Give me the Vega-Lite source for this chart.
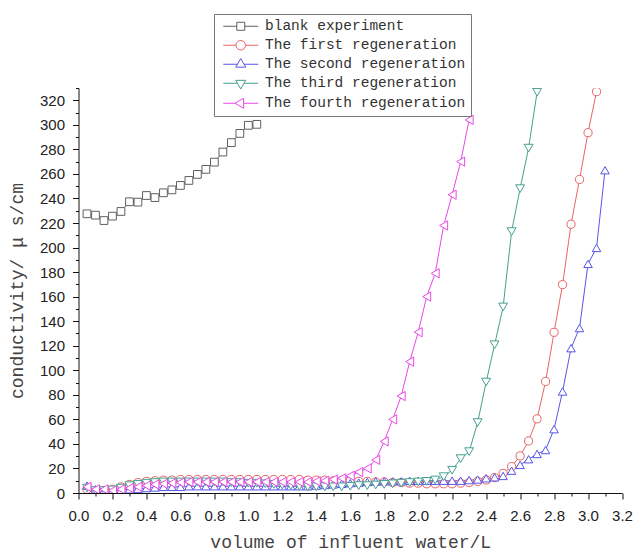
{
 "$schema": "https://vega.github.io/schema/vega-lite/v6.json",
 "width": 543.5,
 "height": 405,
 "autosize": "none",
 "padding": {"left": 78.5, "top": 88, "right": 13, "bottom": 59},
 "background": "white",
 "config": {
  "view": {"stroke": null},
  "axis": {"grid": false, "domainColor": "#111", "tickColor": "#111", "labelFont": "Liberation Sans", "labelFontSize": 15, "labelColor": "#222", "titleFont": "Liberation Mono", "titleFontSize": 18, "titleFontWeight": "normal", "titleColor": "#444", "labelOverlap": false, "labelFlush": false}
 },
 "data": {"values": [
  {"s":"blank","x":0.05,"y":227.5},{"s":"blank","x":0.1,"y":226.4},{"s":"blank","x":0.15,"y":222},{"s":"blank","x":0.2,"y":225.6},{"s":"blank","x":0.25,"y":229.4},{"s":"blank","x":0.3,"y":237.3},{"s":"blank","x":0.35,"y":237},{"s":"blank","x":0.4,"y":242.4},{"s":"blank","x":0.45,"y":240.7},{"s":"blank","x":0.5,"y":244.6},{"s":"blank","x":0.55,"y":247},{"s":"blank","x":0.6,"y":250.6},{"s":"blank","x":0.65,"y":254.7},{"s":"blank","x":0.7,"y":259.6},{"s":"blank","x":0.75,"y":263.7},{"s":"blank","x":0.8,"y":269.6},{"s":"blank","x":0.85,"y":277.8},{"s":"blank","x":0.9,"y":285.5},{"s":"blank","x":0.95,"y":293},{"s":"blank","x":1.0,"y":299.6},{"s":"blank","x":1.05,"y":300.4},
  {"s":"first","x":0.05,"y":3},{"s":"first","x":0.1,"y":2},{"s":"first","x":0.15,"y":2},{"s":"first","x":0.2,"y":3},{"s":"first","x":0.25,"y":5},{"s":"first","x":0.3,"y":7},{"s":"first","x":0.35,"y":8.5},{"s":"first","x":0.4,"y":9.5},{"s":"first","x":0.45,"y":10},{"s":"first","x":0.5,"y":10.5},{"s":"first","x":0.55,"y":10.5},{"s":"first","x":0.6,"y":11},{"s":"first","x":0.65,"y":11},{"s":"first","x":0.7,"y":11},{"s":"first","x":0.75,"y":11},{"s":"first","x":0.8,"y":11},{"s":"first","x":0.85,"y":11},{"s":"first","x":0.9,"y":11},{"s":"first","x":0.95,"y":11},{"s":"first","x":1.0,"y":11},{"s":"first","x":1.05,"y":11},{"s":"first","x":1.1,"y":11},{"s":"first","x":1.15,"y":11},{"s":"first","x":1.2,"y":11},{"s":"first","x":1.25,"y":11},{"s":"first","x":1.3,"y":11},{"s":"first","x":1.35,"y":10.5},{"s":"first","x":1.4,"y":10.5},{"s":"first","x":1.45,"y":10.5},{"s":"first","x":1.5,"y":10},{"s":"first","x":1.55,"y":10},{"s":"first","x":1.6,"y":10},{"s":"first","x":1.65,"y":9.5},{"s":"first","x":1.7,"y":9.5},{"s":"first","x":1.75,"y":9},{"s":"first","x":1.8,"y":9},{"s":"first","x":1.85,"y":8.5},{"s":"first","x":1.9,"y":8.5},{"s":"first","x":1.95,"y":8},{"s":"first","x":2.0,"y":8},{"s":"first","x":2.05,"y":7.5},{"s":"first","x":2.1,"y":7.5},{"s":"first","x":2.15,"y":7.5},{"s":"first","x":2.2,"y":7.5},{"s":"first","x":2.25,"y":8},{"s":"first","x":2.3,"y":8.5},{"s":"first","x":2.35,"y":9.5},{"s":"first","x":2.4,"y":10.6},{"s":"first","x":2.45,"y":12.5},{"s":"first","x":2.5,"y":16},{"s":"first","x":2.55,"y":21.5},{"s":"first","x":2.6,"y":30.2},{"s":"first","x":2.65,"y":42.4},{"s":"first","x":2.7,"y":60.4},{"s":"first","x":2.75,"y":90.9},{"s":"first","x":2.8,"y":130.9},{"s":"first","x":2.85,"y":169.8},{"s":"first","x":2.9,"y":219},{"s":"first","x":2.95,"y":255.5},{"s":"first","x":3.0,"y":293.6},{"s":"first","x":3.05,"y":327},
  {"s":"second","x":0.05,"y":6},{"s":"second","x":0.1,"y":3},{"s":"second","x":0.15,"y":2},{"s":"second","x":0.2,"y":2},{"s":"second","x":0.25,"y":2.5},{"s":"second","x":0.3,"y":3},{"s":"second","x":0.35,"y":3.5},{"s":"second","x":0.4,"y":4},{"s":"second","x":0.45,"y":4.5},{"s":"second","x":0.5,"y":5},{"s":"second","x":0.55,"y":5},{"s":"second","x":0.6,"y":5},{"s":"second","x":0.65,"y":5.5},{"s":"second","x":0.7,"y":5.5},{"s":"second","x":0.75,"y":5.5},{"s":"second","x":0.8,"y":5.5},{"s":"second","x":0.85,"y":5.5},{"s":"second","x":0.9,"y":5.5},{"s":"second","x":0.95,"y":5.5},{"s":"second","x":1.0,"y":5.5},{"s":"second","x":1.05,"y":5.5},{"s":"second","x":1.1,"y":5.5},{"s":"second","x":1.15,"y":5.5},{"s":"second","x":1.2,"y":5.5},{"s":"second","x":1.25,"y":5.5},{"s":"second","x":1.3,"y":5.5},{"s":"second","x":1.35,"y":5.5},{"s":"second","x":1.4,"y":6},{"s":"second","x":1.45,"y":6.5},{"s":"second","x":1.5,"y":7},{"s":"second","x":1.55,"y":7.5},{"s":"second","x":1.6,"y":8},{"s":"second","x":1.65,"y":8.5},{"s":"second","x":1.7,"y":9},{"s":"second","x":1.75,"y":9.5},{"s":"second","x":1.8,"y":9.5},{"s":"second","x":1.85,"y":9.5},{"s":"second","x":1.9,"y":9.5},{"s":"second","x":1.95,"y":10},{"s":"second","x":2.0,"y":10},{"s":"second","x":2.05,"y":10},{"s":"second","x":2.1,"y":10},{"s":"second","x":2.15,"y":10},{"s":"second","x":2.2,"y":10},{"s":"second","x":2.25,"y":10},{"s":"second","x":2.3,"y":10.5},{"s":"second","x":2.35,"y":11},{"s":"second","x":2.4,"y":12},{"s":"second","x":2.45,"y":12.8},{"s":"second","x":2.5,"y":13.9},{"s":"second","x":2.55,"y":18.2},{"s":"second","x":2.6,"y":22.9},{"s":"second","x":2.65,"y":27.5},{"s":"second","x":2.7,"y":31.8},{"s":"second","x":2.75,"y":35},{"s":"second","x":2.8,"y":52},{"s":"second","x":2.85,"y":82.7},{"s":"second","x":2.9,"y":118},{"s":"second","x":2.95,"y":134.4},{"s":"second","x":3.0,"y":186.7},{"s":"second","x":3.05,"y":199.7},{"s":"second","x":3.1,"y":263},
  {"s":"third","x":0.05,"y":4},{"s":"third","x":0.1,"y":2},{"s":"third","x":0.15,"y":2},{"s":"third","x":0.2,"y":2.5},{"s":"third","x":0.25,"y":4},{"s":"third","x":0.3,"y":6},{"s":"third","x":0.35,"y":7},{"s":"third","x":0.4,"y":8},{"s":"third","x":0.45,"y":8.5},{"s":"third","x":0.5,"y":9},{"s":"third","x":0.55,"y":9},{"s":"third","x":0.6,"y":9},{"s":"third","x":0.65,"y":9},{"s":"third","x":0.7,"y":9},{"s":"third","x":0.75,"y":9},{"s":"third","x":0.8,"y":9},{"s":"third","x":0.85,"y":9},{"s":"third","x":0.9,"y":8.5},{"s":"third","x":0.95,"y":8.5},{"s":"third","x":1.0,"y":8},{"s":"third","x":1.05,"y":8},{"s":"third","x":1.1,"y":7.5},{"s":"third","x":1.15,"y":7},{"s":"third","x":1.2,"y":6.5},{"s":"third","x":1.25,"y":6},{"s":"third","x":1.3,"y":5.5},{"s":"third","x":1.35,"y":5},{"s":"third","x":1.4,"y":5},{"s":"third","x":1.45,"y":5},{"s":"third","x":1.5,"y":5},{"s":"third","x":1.55,"y":5},{"s":"third","x":1.6,"y":5.5},{"s":"third","x":1.65,"y":6},{"s":"third","x":1.7,"y":6},{"s":"third","x":1.75,"y":6.5},{"s":"third","x":1.8,"y":7},{"s":"third","x":1.85,"y":7.5},{"s":"third","x":1.9,"y":8},{"s":"third","x":1.95,"y":8.5},{"s":"third","x":2.0,"y":9},{"s":"third","x":2.05,"y":9.5},{"s":"third","x":2.1,"y":10.6},{"s":"third","x":2.15,"y":13.3},{"s":"third","x":2.2,"y":18.5},{"s":"third","x":2.25,"y":28},{"s":"third","x":2.3,"y":33.7},{"s":"third","x":2.35,"y":57.4},{"s":"third","x":2.4,"y":90.4},{"s":"third","x":2.45,"y":120.8},{"s":"third","x":2.5,"y":151.6},{"s":"third","x":2.55,"y":213},{"s":"third","x":2.6,"y":248},{"s":"third","x":2.65,"y":281},{"s":"third","x":2.7,"y":326.5},
  {"s":"fourth","x":0.05,"y":5},{"s":"fourth","x":0.1,"y":3},{"s":"fourth","x":0.15,"y":3},{"s":"fourth","x":0.2,"y":2},{"s":"fourth","x":0.25,"y":3},{"s":"fourth","x":0.3,"y":4},{"s":"fourth","x":0.35,"y":5},{"s":"fourth","x":0.4,"y":6},{"s":"fourth","x":0.45,"y":7},{"s":"fourth","x":0.5,"y":7.5},{"s":"fourth","x":0.55,"y":8},{"s":"fourth","x":0.6,"y":8.5},{"s":"fourth","x":0.65,"y":9},{"s":"fourth","x":0.7,"y":9},{"s":"fourth","x":0.75,"y":9},{"s":"fourth","x":0.8,"y":9},{"s":"fourth","x":0.85,"y":9},{"s":"fourth","x":0.9,"y":9},{"s":"fourth","x":0.95,"y":9},{"s":"fourth","x":1.0,"y":9},{"s":"fourth","x":1.05,"y":9},{"s":"fourth","x":1.1,"y":9},{"s":"fourth","x":1.15,"y":9},{"s":"fourth","x":1.2,"y":9},{"s":"fourth","x":1.25,"y":9},{"s":"fourth","x":1.3,"y":9},{"s":"fourth","x":1.35,"y":9},{"s":"fourth","x":1.4,"y":9.5},{"s":"fourth","x":1.45,"y":10},{"s":"fourth","x":1.5,"y":11},{"s":"fourth","x":1.55,"y":12},{"s":"fourth","x":1.6,"y":14},{"s":"fourth","x":1.65,"y":17},{"s":"fourth","x":1.7,"y":20},{"s":"fourth","x":1.75,"y":27},{"s":"fourth","x":1.8,"y":42},{"s":"fourth","x":1.85,"y":60},{"s":"fourth","x":1.9,"y":79},{"s":"fourth","x":1.95,"y":107},{"s":"fourth","x":2.0,"y":131},{"s":"fourth","x":2.05,"y":160},{"s":"fourth","x":2.1,"y":179},{"s":"fourth","x":2.15,"y":218},{"s":"fourth","x":2.2,"y":243},{"s":"fourth","x":2.25,"y":270},{"s":"fourth","x":2.3,"y":304}
 ]},
 "encoding": {
  "x": {"field": "x", "type": "quantitative", "scale": {"domain": [0, 3.2], "nice": false, "zero": false},
   "axis": {"title": "volume of influent water/L", "values": [0,0.1,0.2,0.3,0.4,0.5,0.6,0.7,0.8,0.9,1.0,1.1,1.2,1.3,1.4,1.5,1.6,1.7,1.8,1.9,2.0,2.1,2.2,2.3,2.4,2.5,2.6,2.7,2.8,2.9,3.0,3.1,3.2], "format": ".1f",
    "labelExpr": "round(datum.value*10) % 2 == 0 ? datum.label : ''",
    "tickSize": {"condition": {"test": "round(datum.value*10) % 2 == 0", "value": 6}, "value": 3},
    "labelPadding": 9, "titlePadding": 10}},
  "y": {"field": "y", "type": "quantitative", "scale": {"domain": [0, 330], "nice": false},
   "axis": {"title": "conductivity/ μ s/cm", "values": [0,10,20,30,40,50,60,70,80,90,100,110,120,130,140,150,160,170,180,190,200,210,220,230,240,250,260,270,280,290,300,310,320,330],
    "labelExpr": "datum.value % 20 == 0 ? datum.label : ''",
    "tickSize": {"condition": {"test": "datum.value % 20 == 0", "value": 6}, "value": 3},
    "labelPadding": 8, "titlePadding": 13}}
 },
 "layer": [
  {"mark": {"type": "line", "strokeWidth": 1, "clip": true},
   "encoding": {"color": {"field": "s", "type": "nominal", "scale": {"domain": ["blank","first","second","third","fourth"], "range": ["#606060","#e86464","#5656e6","#46a090","#e848e8"]}, "legend": null}}},
  {"mark": {"type": "point", "filled": true, "fill": "white", "strokeWidth": 1, "opacity": 1, "clip": true},
   "encoding": {
    "stroke": {"field": "s", "type": "nominal", "scale": {"domain": ["blank","first","second","third","fourth"], "range": ["#606060","#e86464","#5656e6","#46a090","#e848e8"]}, "legend": null},
    "shape": {"field": "s", "type": "nominal", "scale": {"domain": ["blank","first","second","third","fourth"], "range": ["square","circle","triangle-up","triangle-down","triangle-left"]}, "legend": null},
    "size": {"field": "s", "type": "nominal", "scale": {"domain": ["blank","first","second","third","fourth"], "range": [60, 85, 110, 110, 110]}, "legend": null}}},
  {"mark": {"type": "point", "filled": false, "strokeWidth": 1, "opacity": 0},
   "encoding": {
    "color": {"field": "s", "type": "nominal", "scale": {"domain": ["blank","first","second","third","fourth"], "range": ["#606060","#e86464","#5656e6","#46a090","#e848e8"]},
     "legend": {"title": null, "orient": "none", "legendX": 135.5, "legendY": -74, "labelExpr": "{'blank':'blank experiment','first':'The first regeneration','second':'The second regeneration','third':'The third regeneration','fourth':'The fourth regeneration'}[datum.value]", "labelFont": "Liberation Mono", "labelFontSize": 14.5, "labelColor": "#333", "labelLimit": 0, "symbolSize": 100, "symbolStrokeWidth": 1, "symbolOpacity": 1, "symbolOffset": 14.5, "labelOffset": 17, "padding": 5, "rowPadding": 4, "strokeColor": "#777", "fillColor": "white"}},
    "shape": {"field": "s", "type": "nominal", "scale": {"domain": ["blank","first","second","third","fourth"], "range": [
      "M-3.5,0H-0.8M0.8,0H3.5M-0.8,-0.8H0.8V0.8H-0.8Z",
      "M-3.5,0H-0.95M0.95,0H3.5M-0.95,0A0.95,0.95,0,1,0,0.95,0A0.95,0.95,0,1,0,-0.95,0Z",
      "M-3.5,0H-0.67M0.67,0H3.5M0,-1.15L1,0.58H-1Z",
      "M-3.5,0H-0.67M0.67,0H3.5M0,1.15L1,-0.58H-1Z",
      "M-3.5,0H-1.15M0.58,0H3.5M-1.15,0L0.58,-1V1Z"]},
     "legend": {"title": null, "orient": "none", "legendX": 135.5, "legendY": -74, "labelExpr": "{'blank':'blank experiment','first':'The first regeneration','second':'The second regeneration','third':'The third regeneration','fourth':'The fourth regeneration'}[datum.value]", "labelFont": "Liberation Mono", "labelFontSize": 14.5, "labelColor": "#333", "labelLimit": 0, "symbolSize": 100, "symbolStrokeWidth": 1, "symbolOpacity": 1, "symbolOffset": 14.5, "labelOffset": 17, "padding": 5, "rowPadding": 4, "strokeColor": "#777", "fillColor": "white"}}}}
 ],
 "resolve": {"scale": {"color": "independent", "shape": "independent"}}
}
